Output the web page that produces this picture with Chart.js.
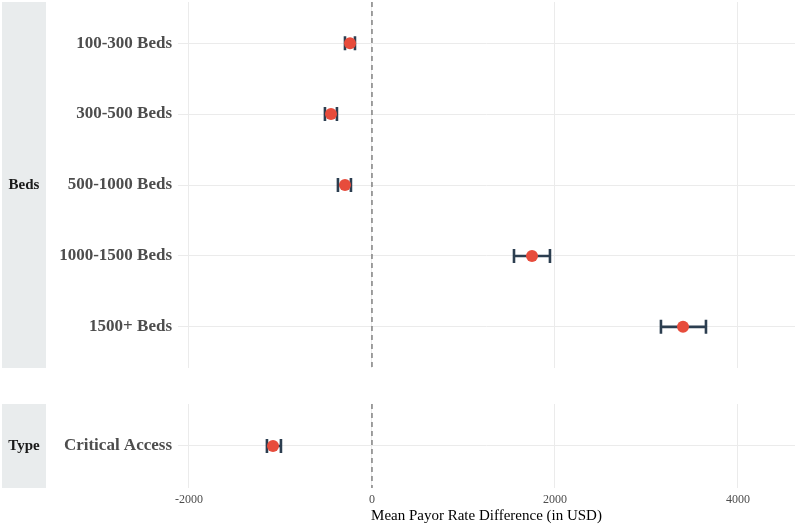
<!DOCTYPE html>
<html>
<head>
<meta charset="utf-8">
<script src="https://cdn.jsdelivr.net/npm/chart.js@4"></script>
<style>
  body { margin: 0; background: #fff; }
  #wrap { position: relative; width: 795px; height: 525px; }
  canvas { position: absolute; left: 0; }
</style>
</head>
<body>
<div id="wrap">
  <canvas id="bedsChart" width="795" height="370" style="top:0"></canvas>
  <canvas id="typeChart" width="795" height="135" style="top:390px"></canvas>
</div>
<script>
// Beds facet
const bedLabels = ['100-300 Beds', '300-500 Beds', '500-1000 Beds', '1000-1500 Beds', '1500+ Beds'];
const bedMeans = [-240, -448, -295, 1749, 3399];
const bedLower = [-295, -514, -372, 1552, 3158];
const bedUpper = [-186, -383, -230, 1945, 3650];

// Type facet
const typeLabels = ['Critical Access'];
const typeMeans = [-1082];
const typeLower = [-1148];
const typeUpper = [-995];

const xTicks = [-2000, 0, 2000, 4000];
const xTitle = 'Mean Payor Rate Difference (in USD)';

const serif = "'Liberation Serif', 'Times New Roman', serif";

function makePanel(id, strip, labels, means, lower, upper, showAxis) {
    // strip box, zero line and error bars drawn with the chart's scales
    const panelPlugin = {
        id: 'panel_' + id,
        beforeDatasetsDraw(chart) {
            const { ctx, chartArea, scales } = chart;
            const x = scales.x, y = scales.y;

            ctx.save();
            ctx.fillStyle = '#e9eced';
            ctx.fillRect(2, chartArea.top, 44, chartArea.bottom - chartArea.top);
            ctx.fillStyle = '#1a1a1a';
            ctx.font = 'bold 15px ' + serif;
            ctx.textAlign = 'center';
            ctx.textBaseline = 'middle';
            ctx.fillText(strip, 24, (chartArea.top + chartArea.bottom) / 2);

            // dashed reference line at 0
            const x0 = x.getPixelForValue(0);
            ctx.strokeStyle = '#666666';
            ctx.lineWidth = 1.2;
            ctx.setLineDash([5, 4]);
            ctx.beginPath();
            ctx.moveTo(x0, chartArea.top);
            ctx.lineTo(x0, chartArea.bottom);
            ctx.stroke();
            ctx.setLineDash([]);

            // error bars
            ctx.strokeStyle = '#2c3e50';
            ctx.lineWidth = 2.6;
            labels.forEach((_, i) => {
                const py = y.getPixelForValue(i + 1);
                const xl = x.getPixelForValue(lower[i]);
                const xu = x.getPixelForValue(upper[i]);
                ctx.beginPath();
                ctx.moveTo(xl, py); ctx.lineTo(xu, py);
                ctx.moveTo(xl, py - 7); ctx.lineTo(xl, py + 7);
                ctx.moveTo(xu, py - 7); ctx.lineTo(xu, py + 7);
                ctx.stroke();
            });
            ctx.restore();
        }
    };

    const n = labels.length;
    return new Chart(document.getElementById(id), {
        type: 'scatter',
        data: {
            datasets: [{
                data: means.map((v, i) => ({ x: v, y: i + 1 })),
                backgroundColor: '#e74c3c',
                borderWidth: 0,
                pointRadius: 6,
                pointHoverRadius: 6
            }]
        },
        options: {
            responsive: false,
            animation: false,
            layout: {
                autoPadding: false,
                padding: { top: showAxis ? 14 : 2, bottom: 0, left: 0, right: 0 }
            },
            plugins: { legend: { display: false }, tooltip: { enabled: false } },
            scales: {
                x: {
                    type: 'linear',
                    min: -2120,
                    max: 4623,
                    afterBuildTicks: s => { s.ticks = xTicks.map(v => ({ value: v })); },
                    afterFit: s => {
                        s.height = showAxis ? 37 : 2;
                        s.paddingLeft = 0;
                        s.paddingRight = 0;
                    },
                    border: { display: false },
                    grid: { color: '#ebebeb', lineWidth: 1, drawTicks: false },
                    ticks: {
                        display: showAxis,
                        padding: 5,
                        color: '#4d4d4d',
                        font: { family: serif, size: 12 },
                        callback: v => String(v)
                    },
                    title: {
                        display: showAxis,
                        text: xTitle,
                        color: '#000000',
                        padding: { top: 0, bottom: 0 },
                        font: { family: serif, size: 15 }
                    }
                },
                y: {
                    type: 'linear',
                    reverse: true,
                    min: n === 1 ? 0.4 : 0.42,
                    max: n === 1 ? 1.6 : n + 0.58,
                    afterBuildTicks: s => { s.ticks = labels.map((_, i) => ({ value: i + 1 })); },
                    afterFit: s => {
                        s.width = 178;
                        s.paddingTop = 0;
                        s.paddingBottom = 0;
                    },
                    border: { display: false },
                    grid: { color: '#ebebeb', lineWidth: 1, drawTicks: false },
                    ticks: {
                        autoSkip: false,
                        padding: 6,
                        color: '#4d4d4d',
                        font: { family: serif, size: 17, weight: 'bold' },
                        callback: v => labels[v - 1]
                    }
                }
            }
        },
        plugins: [panelPlugin]
    });
}

makePanel('bedsChart', 'Beds', bedLabels, bedMeans, bedLower, bedUpper, false);
makePanel('typeChart', 'Type', typeLabels, typeMeans, typeLower, typeUpper, true);
</script>
</body>
</html>
